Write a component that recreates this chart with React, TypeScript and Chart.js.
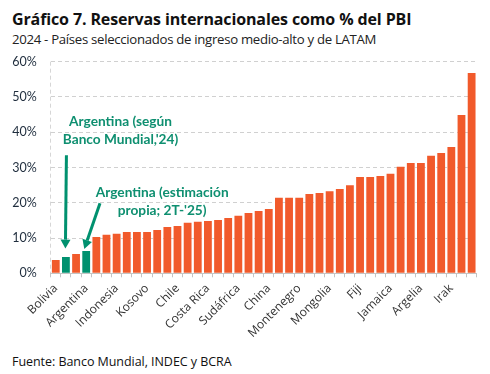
import React, { useEffect, useRef } from 'react';
import { Chart, registerables } from 'chart.js';

Chart.register(...registerables);

// ---- Data ----
const categories: string[] = [
  'Bolivia', 'Argentina (Banco Mundial)', '', 'Argentina', '', '',
  'Indonesia', '', '', 'Kosovo', '', '',
  'Chile', '', '', 'Costa Rica', '', '',
  'Sudáfrica', '', '', 'China', '', '',
  'Montenegro', '', '', 'Mongolia', '', '',
  'Fiji', '', '', 'Jamaica', '', '',
  'Argelia', '', '', 'Irak', '', '',
];

const reservesPctGdp: number[] = [
  3.8, 4.6, 5.5, 6.3, 10.3, 10.9, 11.2, 11.7, 11.7, 11.7,
  12.3, 13.1, 13.4, 14.3, 14.6, 14.8, 15.1, 15.7, 16.3, 17.1,
  17.7, 18.2, 21.4, 21.4, 21.4, 22.5, 22.8, 23.3, 23.9, 25.0,
  27.3, 27.3, 27.6, 28.2, 30.2, 31.3, 31.3, 33.3, 34.1, 35.8,
  44.9, 56.8,
];

const highlightIdx: number[] = [1, 3];

const yTicks: number[] = [0, 10, 20, 30, 40, 50, 60];

const ORANGE = '#F15A2B';
const GREEN = '#00916F';
const GREEN_TEXT = '#0E8F70';

// annotation texts (data coordinates: category index, % value)
const annotations = [
  {
    lines: ['Argentina (según', "Banco Mundial,'24)"],
    textX: 6.38, textY: 43.0,
    fromX: 1.05, fromY: 33.5, toX: 0.95, toY: 7.0,
  },
  {
    lines: ['Argentina (estimación', "propia; 2T-'25)"],
    textX: 10.49, textY: 23.0,
    fromX: 4.36, fromY: 19.85, toX: 2.81, toY: 6.9,
  },
];

const annotationPlugin = {
  id: 'argAnnotations',
  afterDatasetsDraw(chart: any) {
    const { ctx } = chart;
    const x = chart.scales.x;
    const y = chart.scales.y;
    ctx.save();
    for (const a of annotations) {
      ctx.font = 'bold 13.7px Lato';
      ctx.fillStyle = GREEN_TEXT;
      ctx.textAlign = 'center';
      ctx.textBaseline = 'middle';
      const tx = x.getPixelForValue(a.textX);
      const ty = y.getPixelForValue(a.textY);
      a.lines.forEach((t, i) => ctx.fillText(t, tx, ty + i * 18));

      const x1 = x.getPixelForValue(a.fromX);
      const y1 = y.getPixelForValue(a.fromY);
      const x2 = x.getPixelForValue(a.toX);
      const y2 = y.getPixelForValue(a.toY);
      const ang = Math.atan2(y2 - y1, x2 - x1);
      const headLen = 9;
      const headHalf = 5;
      const bx = x2 - headLen * Math.cos(ang);
      const by = y2 - headLen * Math.sin(ang);
      ctx.strokeStyle = GREEN;
      ctx.lineWidth = 3;
      ctx.beginPath();
      ctx.moveTo(x1, y1);
      ctx.lineTo(bx, by);
      ctx.stroke();
      ctx.fillStyle = GREEN;
      ctx.beginPath();
      ctx.moveTo(x2, y2);
      ctx.lineTo(bx - headHalf * Math.sin(ang), by + headHalf * Math.cos(ang));
      ctx.lineTo(bx + headHalf * Math.sin(ang), by - headHalf * Math.cos(ang));
      ctx.closePath();
      ctx.fill();
    }
    ctx.restore();
  },
};

export default function App() {
  const canvasRef = useRef<HTMLCanvasElement | null>(null);

  useEffect(() => {
    if (!canvasRef.current) return;
    const chart = new Chart(canvasRef.current, {
      type: 'bar',
      data: {
        labels: categories,
        datasets: [
          {
            data: reservesPctGdp,
            backgroundColor: reservesPctGdp.map((_, i) => (highlightIdx.includes(i) ? GREEN : ORANGE)),
            borderWidth: 0,
            barPercentage: 0.77,
            categoryPercentage: 1,
          },
        ],
      },
      options: {
        responsive: false,
        animation: false,
        devicePixelRatio: 1,
        layout: { padding: { left: 0, right: 13.3, top: 0, bottom: 0 } },
        plugins: {
          legend: { display: false },
          tooltip: { enabled: false },
          title: { display: false },
        },
        scales: {
          x: {
            offset: true,
            grid: {
              offset: true,
              display: true,
              drawOnChartArea: true,
              color: (c: any) => (c.index === 0 ? '#d6d6d6' : 'rgba(0,0,0,0)'),
              tickColor: '#c4c4c4',
              tickLength: 4,
            },
            border: { display: true, color: '#c4c4c4', width: 1, dash: [4, 3] },
            ticks: {
              autoSkip: false,
              maxRotation: 45,
              minRotation: 45,
              padding: 4,
              color: '#333333',
              font: { family: 'Open Sans', size: 12 },
              callback: (_v: any, i: number) => (i % 3 === 0 ? categories[i] : ''),
            },
            afterFit: (scale: any) => {
              scale.height = 71.7;
            },
          },
          y: {
            min: 0,
            max: 60,
            afterBuildTicks: (scale: any) => {
              scale.ticks = yTicks.map((v) => ({ value: v }));
            },
            grid: {
              color: (c: any) => (c.tick && c.tick.value === 0 ? 'rgba(0,0,0,0)' : '#d0d0d0'),
              drawTicks: false,
            },
            border: { display: false, dash: [4, 3] },
            ticks: {
              padding: 14,
              color: '#1F2D3D',
              font: { family: 'Lato', size: 12.5 },
              callback: (v: any) => `${v}%`,
            },
            afterFit: (scale: any) => {
              scale.width = 50.7;
              scale.paddingTop = 11.7;
              scale.paddingBottom = 0;
            },
          },
        },
      },
      plugins: [annotationPlugin],
    });
    return () => chart.destroy();
  }, []);

  return (
    <div
      style={{
        position: 'fixed',
        left: 0,
        top: 0,
        width: 490,
        height: 374,
        background: '#ffffff',
        overflow: 'hidden',
      }}
    >
      <div
        style={{
          position: 'absolute',
          left: 12,
          top: 9,
          fontFamily: 'Open Sans',
          fontWeight: 700,
          fontSize: 16,
          lineHeight: '20px',
          letterSpacing: '-0.12px',
          color: '#111111',
          whiteSpace: 'nowrap',
        }}
      >
        Gráfico 7. Reservas internacionales como % del PBI
      </div>
      <div
        style={{
          position: 'absolute',
          left: 12,
          top: 30,
          fontFamily: 'Open Sans',
          fontSize: 13.2,
          lineHeight: '18px',
          letterSpacing: '-0.3px',
          color: '#222222',
          whiteSpace: 'nowrap',
        }}
      >
        2024 - Países seleccionados de ingreso medio-alto y de LATAM
      </div>
      <canvas
        ref={canvasRef}
        width={490}
        height={295}
        style={{ position: 'absolute', left: 0, top: 50, width: 490, height: 295 }}
      />
      <div
        style={{
          position: 'absolute',
          left: 12,
          top: 354,
          fontFamily: 'Open Sans',
          fontSize: 12.5,
          lineHeight: '16px',
          letterSpacing: '-0.05px',
          color: '#111111',
          whiteSpace: 'nowrap',
        }}
      >
        Fuente: Banco Mundial, INDEC y BCRA
      </div>
    </div>
  );
}
